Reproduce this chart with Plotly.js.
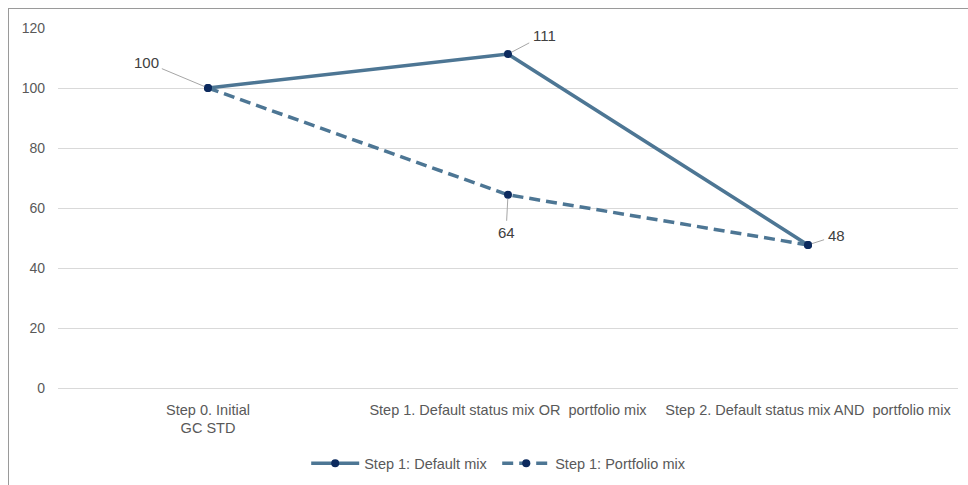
<!DOCTYPE html>
<html>
<head>
<meta charset="utf-8">
<script src="https://cdn.plot.ly/plotly-3.0.1.min.js"></script>
<style>
html,body{margin:0;padding:0;background:#fff;overflow:hidden;}
#wrap{position:relative;width:968px;height:485px;}
#chart{position:absolute;left:0;top:0;width:968px;height:485px;}
#frame{position:absolute;left:8px;top:8px;width:990px;height:500px;border:1.5px solid #9a9a9a;pointer-events:none;}
</style>
</head>
<body>
<div id="wrap"><div id="chart"></div><div id="frame"></div></div>
<script>
const categories = ["Step 0. Initial<br>GC STD", "Step 1. Default status mix OR  portfolio mix", "Step 2. Default status mix AND  portfolio mix"];
const defaultMix = [100, 111.3, 47.7];
const portfolioMix = [100, 64.4, 47.7];
const seriesNames = ["Step 1: Default mix", "Step 1: Portfolio mix"];
const yTicks = [0, 20, 40, 60, 80, 100, 120];

const lineColor = "#4d7694";
const markerColor = "#0c2a5e";
const font = "'Liberation Sans', Arial, sans-serif";

const traces = [
  {x: categories, y: defaultMix, name: seriesNames[0], type: "scatter", mode: "lines+markers",
   line: {color: lineColor, width: 3.5}, marker: {color: markerColor, size: 8}},
  {x: categories, y: portfolioMix, name: seriesNames[1], type: "scatter", mode: "lines+markers",
   line: {color: lineColor, width: 3.5, dash: "11px,6px"}, marker: {color: markerColor, size: 8}}
];

function lab(i, y, ax, ay, xanchor) {
  return {x: categories[i], y: y, text: String(Math.round(y)), showarrow: true, arrowhead: 0,
    arrowwidth: 1, arrowcolor: "#a6a6a6", ax: ax, ay: ay, xanchor: xanchor || "center",
    standoff: 4, startstandoff: 2,
    font: {family: font, size: 15, color: "#404040"}};
}
const annotations = [
  lab(0, defaultMix[0], -62, -26),
  lab(1, defaultMix[1], 36, -19),
  lab(1, portfolioMix[1], -2, 38),
  lab(2, defaultMix[2], 28, -9)
];

const layout = {
  width: 968, height: 485,
  margin: {l: 58, r: 10, t: 28, b: 97, autoexpand: false},
  paper_bgcolor: "#fff", plot_bgcolor: "#fff",
  font: {family: font, size: 14, color: "#595959"},
  showlegend: true,
  legend: {orientation: "h", x: 0.488, xanchor: "center", y: -0.165, yanchor: "top",
    font: {family: font, size: 14.5, color: "#595959"}, itemwidth: 48, traceorder: "normal",
    entrywidth: 128, entrywidthmode: "pixels"},
  xaxis: {type: "category", range: [-0.5, 2.5], showgrid: false, zeroline: false, showline: false,
    automargin: false,
    ticks: "", ticklabelstandoff: 11, tickfont: {family: font, size: 14.5, color: "#595959"}},
  yaxis: {range: [0, 120], tickvals: yTicks, showgrid: true, gridcolor: "#d9d9d9", gridwidth: 1,
    automargin: false,
    zeroline: true, zerolinecolor: "#d9d9d9", zerolinewidth: 1, showline: false, ticks: "",
    ticklabelstandoff: 12, tickfont: {family: font, size: 14, color: "#595959"}},
  annotations: annotations
};

Plotly.newPlot("chart", traces, layout, {displayModeBar: false, staticPlot: true});
</script>
</body>
</html>
